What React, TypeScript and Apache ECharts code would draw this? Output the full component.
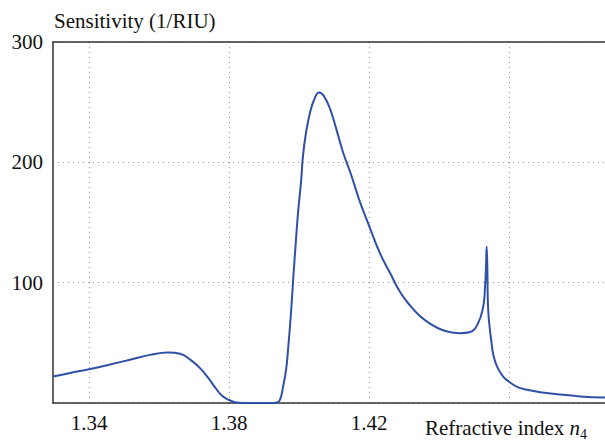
import React, { useEffect, useRef } from "react";
import * as echarts from "echarts";

const refractiveIndex = [
  1.3297, 1.3346, 1.34, 1.346, 1.3517, 1.3574, 1.3626, 1.366, 1.3689, 1.3717,
  1.374, 1.376, 1.378, 1.38, 1.382, 1.386, 1.3917, 1.3937, 1.3946, 1.3954,
  1.3963, 1.3969, 1.3977, 1.3983, 1.3991, 1.3997, 1.4006, 1.4011, 1.402, 1.4031,
  1.4043, 1.4057, 1.4071, 1.4089, 1.4106, 1.4126, 1.4146, 1.4166, 1.4174, 1.4203,
  1.4231, 1.426, 1.4289, 1.4317, 1.4346, 1.4374, 1.4411, 1.446, 1.4489, 1.4511,
  1.4526, 1.4531, 1.4534, 1.4536, 1.4538, 1.4539, 1.4541, 1.4544, 1.4549, 1.4555,
  1.4566, 1.4583, 1.4603, 1.4626, 1.4651, 1.4689, 1.4746, 1.4803, 1.4874,
];
const sensitivity = [
  22, 25, 28, 32, 36, 40, 42, 41, 36, 29,
  21, 13, 6, 2.5, 0.5, 0, 0, 0.5, 3, 13,
  28, 46, 75, 102, 135, 158, 185, 205, 225, 241,
  252, 258, 255, 244, 228, 208, 192, 174, 167, 145,
  124.5, 108, 92, 81, 72, 66, 60.5, 58, 59, 66,
  80, 95, 113, 130, 110, 88, 74, 64, 52, 40,
  30, 22, 17, 13, 11, 9, 7, 5.5, 4.5,
];
const xTicks = [1.34, 1.38, 1.42, 1.46];
const xTickLabels = ["1.34", "1.38", "1.42", ""];
const yTicks = [0, 100, 200, 300];
const yTickLabels = ["", "100", "200", "300"];

const X_MIN = 1.3297;
const X_MAX = 1.4874;

export default function App() {
  const ref = useRef<HTMLDivElement>(null);
  useEffect(() => {
    if (!ref.current) return;
    const chart = echarts.init(ref.current, undefined, { renderer: "svg" });
    const font = "'Liberation Serif', serif";
    const fs = 21;
    const data = refractiveIndex.map((x, i) => [x, sensitivity[i]]);
    const xLabel = (v: number) => {
      for (let i = 0; i < xTicks.length; i++) {
        if (Math.abs(xTicks[i] - v) < 1e-6) return xTickLabels[i];
      }
      return "";
    };
    const yLabel = (v: number) => {
      for (let i = 0; i < yTicks.length; i++) {
        if (Math.abs(yTicks[i] - v) < 1e-6) return yTickLabels[i];
      }
      return "";
    };
    const dotted = { type: [1, 4], color: "#999", width: 1 };
    chart.setOption({
      animation: false,
      grid: { left: 53, top: 42, right: 0, bottom: 40, containLabel: false },
      xAxis: [
        {
          type: "value",
          min: X_MIN,
          max: X_MAX,
          axisLine: { show: true, onZero: false, lineStyle: { color: "#333", width: 1.5 } },
          axisTick: { show: false, customValues: xTicks },
          axisLabel: {
            customValues: xTicks,
            formatter: (v: number) => xLabel(v),
            fontFamily: font,
            fontSize: fs,
            color: "#111",
            margin: 9,
          },
          splitLine: { show: true, lineStyle: dotted },
        },
        {
          type: "value",
          position: "top",
          min: X_MIN,
          max: X_MAX,
          axisLine: { show: true, onZero: false, lineStyle: { color: "#333", width: 1.5 } },
          axisTick: { show: false },
          axisLabel: { show: false },
          splitLine: { show: false },
        },
      ],
      yAxis: {
        type: "value",
        min: yTicks[0],
        max: yTicks[yTicks.length - 1],
        interval: yTicks[1] - yTicks[0],
        axisLine: { show: true, onZero: false, lineStyle: { color: "#333", width: 1.5 } },
        axisTick: { show: false },
        axisLabel: {
          formatter: (v: number) => yLabel(v),
          fontFamily: font,
          fontSize: fs,
          color: "#111",
          margin: 10,
        },
        splitLine: { show: true, lineStyle: dotted },
      },
      graphic: [
        {
          type: "text",
          left: 54,
          top: 10,
          style: { text: "Sensitivity (1/RIU)", fontFamily: font, fontSize: fs, fill: "#111" },
        },
        {
          type: "text",
          left: 425,
          top: 417,
          style: {
            text: "{a|Refractive index }{i|n}{s|4}",
            fontFamily: font,
            fontSize: fs,
            fill: "#111",
            rich: {
              a: { fontFamily: font, fontSize: fs, color: "#111", verticalAlign: "bottom" },
              i: { fontFamily: font, fontSize: fs, fontStyle: "italic", color: "#111", verticalAlign: "bottom" },
              s: { fontFamily: font, fontSize: 14, color: "#111", verticalAlign: "bottom", padding: [0, 0, -3, 0] },
            },
          },
        },
      ],
      series: [
        {
          type: "line",
          data,
          showSymbol: false,
          smooth: 0.45,
          lineStyle: { color: "#3050a8", width: 2 },
          clip: true,
        },
      ],
    });
    return () => chart.dispose();
  }, []);
  return <div ref={ref} style={{ position: "absolute", left: 0, top: 0, width: 605, height: 443 }} />;
}
